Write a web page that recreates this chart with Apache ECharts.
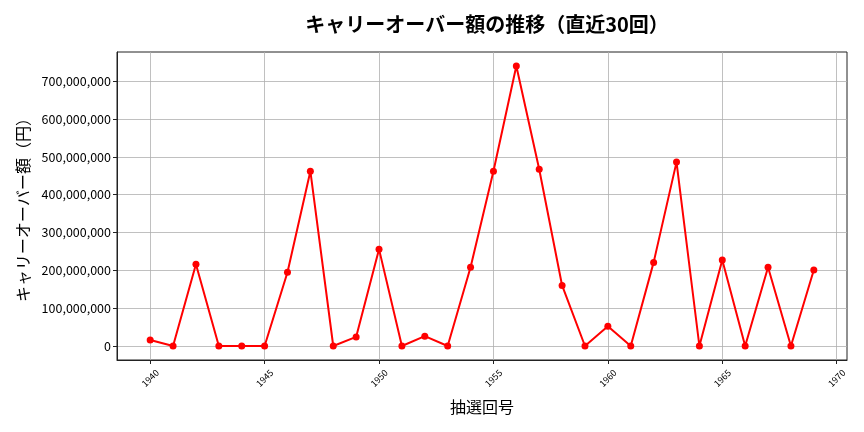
<!DOCTYPE html>
<html><head><meta charset="utf-8">
<script src="https://cdn.jsdelivr.net/npm/echarts@6/dist/echarts.min.js"></script>
<style>html,body{margin:0;padding:0;background:#fff}#c{width:864px;height:432px}</style>
</head><body><div id="c"></div>
<script>
const draws = [1940,1941,1942,1943,1944,1945,1946,1947,1948,1949,1950,1951,1952,1953,1954,1955,1956,1957,1958,1959,1960,1961,1962,1963,1964,1965,1966,1967,1968,1969];
const amounts = [16000000,0,216000000,0,0,0,195000000,462000000,0,24000000,256000000,0,26000000,0,208000000,462000000,740000000,467000000,160000000,0,52000000,0,221000000,486000000,0,227000000,0,208000000,0,201000000];
const xTicks = [1940,1945,1950,1955,1960,1965,1970];
const yTicks = [0,100000000,200000000,300000000,400000000,500000000,600000000,700000000];
const titleText = 'キャリーオーバー額の推移（直近30回）';
const xName = '抽選回号';
const yName = 'キャリーオーバー額（円）';

const font = '"Noto Sans CJK JP", "Noto Sans", sans-serif';
const chart = echarts.init(document.getElementById('c'), null, {renderer:'canvas'});
chart.setOption({
  animation:false,
  title:{text:titleText,left:482,textAlign:'center',top:9,textStyle:{fontFamily:font,fontSize:20,fontWeight:'bold',color:'#000'}},
  grid:{left:117,right:17,top:52,bottom:72,show:true,borderColor:'#222',borderWidth:1,backgroundColor:'transparent'},
  xAxis:{type:'value',min:1938.55,max:1970.45,
    name:xName,nameLocation:'middle',nameGap:39,nameTextStyle:{fontFamily:font,fontSize:16,color:'#000'},
    axisLine:{show:true,onZero:false,lineStyle:{color:'#222'}},
    axisTick:{show:true,length:4,customValues:xTicks,lineStyle:{color:'#222'}},
    axisLabel:{customValues:xTicks,rotate:45,fontSize:9,color:'#000',fontFamily:font,margin:18,
      align:'center',verticalAlign:'middle',
      formatter:v=>String(Math.round(v))},
    splitLine:{show:true,lineStyle:{color:'#b0b0b0',width:0.8}}},
  yAxis:{type:'value',min:-37000000,max:777000000,
    name:yName,nameLocation:'middle',nameGap:86,nameRotate:90,nameTextStyle:{fontFamily:font,fontSize:16,color:'#000'},
    axisLine:{show:true,onZero:false,lineStyle:{color:'#222'}},
    axisTick:{show:true,length:4,customValues:yTicks,lineStyle:{color:'#222'}},
    axisLabel:{customValues:yTicks,fontSize:12.5,color:'#000',fontFamily:font,margin:6,
      formatter:v=>Math.round(v).toLocaleString('en-US')},
    splitLine:{show:true,lineStyle:{color:'#b0b0b0',width:0.8}}},
  series:[{type:'line',data:draws.map((d,i)=>[d,amounts[i]]),
    lineStyle:{color:'#ff0000',width:2},itemStyle:{color:'#ff0000'},
    symbol:'circle',symbolSize:7,showSymbol:true}]
});
</script></body></html>
